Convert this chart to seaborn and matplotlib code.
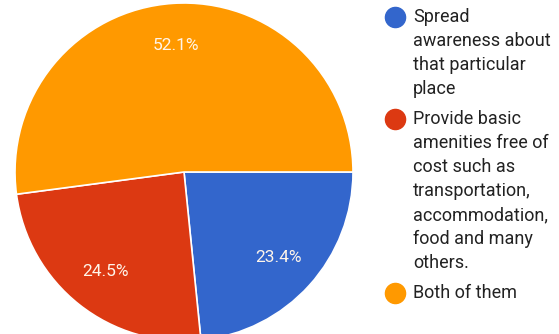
import matplotlib
matplotlib.use("Agg")
import matplotlib.pyplot as plt
import seaborn as sns

sns.set_theme(style="white")
plt.rcParams["font.family"] = ["Roboto", "DejaVu Sans"]

# Survey responses
labels = [
    "Spread\nawareness about\nthat particular\nplace",
    "Provide basic\namenities free of\ncost such as\ntransportation,\naccommodation,\nfood and many\nothers.",
    "Both of them",
]
shares = [23.4, 24.5, 52.1]
colors = sns.color_palette(["#3366CC", "#DC3912", "#FF9900"])

W, H = 559, 334
fig = plt.figure(figsize=(W / 100, H / 100), dpi=100)

# Pie axes: centre (184, 172) px, radius 169 px
cx, cy, r = 184, 172, 169
ax = fig.add_axes([(cx - r) / W, 1 - (cy + r) / H, 2 * r / W, 2 * r / H])
wedges, texts, autotexts = ax.pie(
    shares,
    colors=colors,
    startangle=0,
    counterclock=False,
    autopct="%.1f%%",
    pctdistance=0.75,
    wedgeprops=dict(edgecolor="white", linewidth=1.2),
    textprops=dict(color="#FFF5EA", fontsize=12.5),
)
ax.set_aspect("equal")
ax.set_xlim(-1, 1)
ax.set_ylim(-1, 1)

# Legend drawn line by line on the right
line_step = 24
entry_gap = 6
y = 17
text_x = 413 / W
dot_x = 395 / W
for lab, col in zip(labels, colors):
    lines = lab.split("\n")
    fig.lines.append(
        plt.Line2D([dot_x], [1 - y / H], marker="o", markersize=14.5,
                   color=col, linestyle="none", transform=fig.transFigure)
    )
    for i, ln in enumerate(lines):
        fig.text(text_x, 1 - (y + i * line_step) / H, ln, fontsize=13,
                 color="#222222", va="center", ha="left")
    y += len(lines) * line_step + entry_gap

fig.savefig("out.png", dpi=100)
